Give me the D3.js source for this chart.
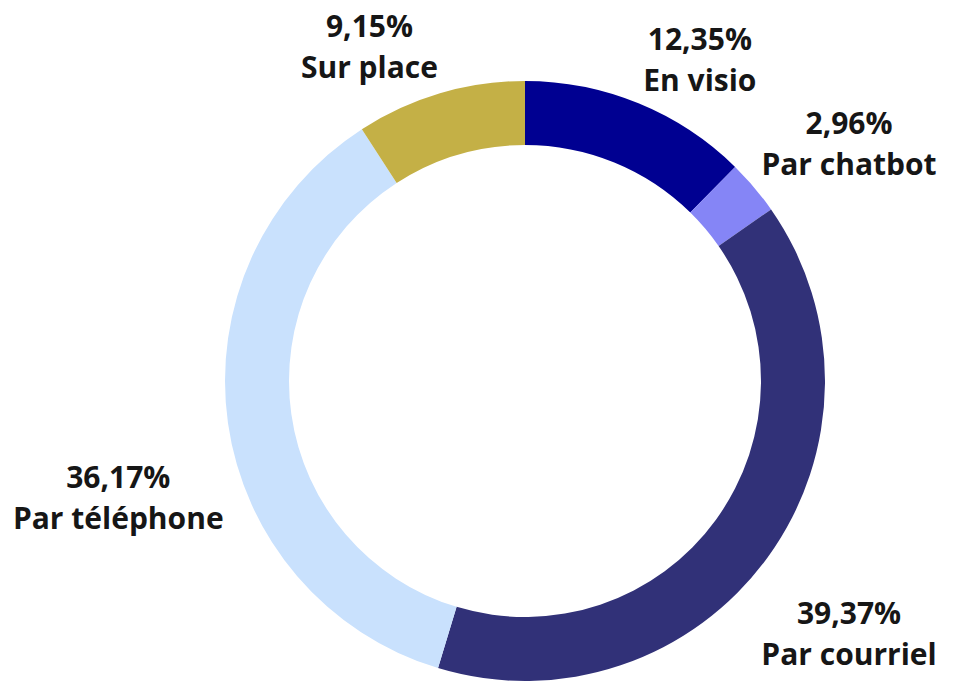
<!DOCTYPE html>
<html>
<head>
<meta charset="utf-8">
<script src="https://cdn.jsdelivr.net/npm/d3@7"></script>
<style>
  html, body { margin: 0; padding: 0; background: #fff; }
  svg { display: block; }
  text { font-family: "Open Sans", Lato, sans-serif; font-weight: 700; fill: #161616; }
</style>
</head>
<body>
<svg id="chart" width="954" height="681"></svg>
<script>
// Data
const categories = ["En visio", "Par chatbot", "Par courriel", "Par téléphone", "Sur place"];
const values = [12.35, 2.96, 39.37, 36.17, 9.15];
const valueLabels = ["12,35%", "2,96%", "39,37%", "36,17%", "9,15%"];
const colors = ["#000091", "#8585f6", "#313178", "#c9e1fd", "#c4b046"];

// Layout (label nudges relative to the arc point, not data)
const labelNudge = [[50, 15], [72, 7], [57, 90], [-80, 102], [-62, 13]];

const W = 954, H = 681;
const cx = 525, cy = 381, rOuter = 300, rInner = 236, rLabel = 330;
const svg = d3.select("#chart");
const g = svg.append("g").attr("transform", `translate(${cx},${cy})`);

const pie = d3.pie().sort(null).value(d => d.value);
const arcs = pie(categories.map((c, i) => ({ name: c, value: values[i], label: valueLabels[i], color: colors[i] })));
const arc = d3.arc().innerRadius(rInner).outerRadius(rOuter);

g.selectAll("path").data(arcs).join("path")
  .attr("d", arc)
  .attr("fill", d => d.data.color);

const lab = g.selectAll("g.lab").data(arcs).join("g").attr("class", "lab")
  .attr("transform", (d, i) => {
    const a = (d.startAngle + d.endAngle) / 2;
    const x = Math.sin(a) * rLabel + labelNudge[i][0];
    const y = -Math.cos(a) * rLabel + labelNudge[i][1];
    return `translate(${x},${y})`;
  });
lab.append("text").attr("text-anchor", "middle").attr("y", -41)
  .style("font-size", "30px").text(d => d.data.label);
lab.append("text").attr("text-anchor", "middle").attr("y", 0)
  .style("font-size", "30px").text(d => d.data.name);
</script>
</body>
</html>
